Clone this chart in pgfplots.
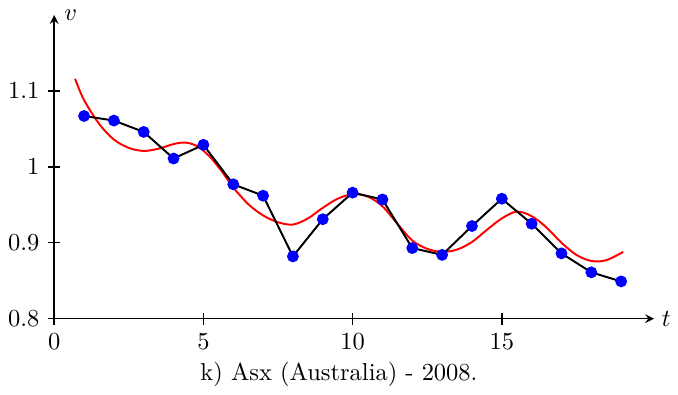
\documentclass[border=0pt]{standalone}
\usepackage{pgfplots}
\pgfplotsset{compat=1.18}
\begin{document}
\begin{tikzpicture}
\begin{axis}[
  scale only axis,
  width=245pt, height=124pt,
  axis x line=bottom, axis y line=left,
  axis line style={line width=0.6pt,-stealth},
  xmin=0, xmax=20.1, ymin=0.8, ymax=1.2,
  xtick={0,5,10,15}, ytick={0.8,0.9,1,1.1},
  tick align=center,
  major tick length=5pt,
  tick style={line width=0.6pt, black},
  xlabel={$t$}, ylabel={$v$},
  xlabel style={at={(axis description cs:1,0)}, anchor=west, inner sep=3pt},
  ylabel style={at={(axis description cs:0,1)}, anchor=west, rotate=-90, inner sep=4pt},
  clip=false,
]
\addplot[red, line width=0.8pt, smooth, tension=0.55] coordinates {
(0.70,1.116) (1.00,1.088) (1.50,1.057) (2.00,1.036) (2.50,1.025) (3.00,1.021)
(3.50,1.024) (4.00,1.030) (4.40,1.032) (4.80,1.027) (5.20,1.014) (5.60,0.995)
(6.00,0.973) (6.50,0.951) (7.00,0.936) (7.50,0.927) (8.00,0.924) (8.50,0.932)
(9.00,0.946) (9.50,0.958) (10.00,0.964) (10.50,0.961) (11.00,0.948) (11.50,0.925)
(12.00,0.903) (12.50,0.892) (13.00,0.888) (13.50,0.891) (14.00,0.901) (14.50,0.917)
(15.00,0.932) (15.50,0.941) (16.00,0.935) (16.50,0.920) (17.00,0.900) (17.50,0.884)
(18.00,0.876) (18.50,0.877) (19.07,0.888)
};
\addplot[black, line width=0.8pt, mark=*, mark size=2pt,
  mark options={fill=blue, draw=blue}] coordinates {
(1,1.067) (2,1.061) (3,1.046) (4,1.011) (5,1.029) (6,0.977) (7,0.962)
(8,0.882) (9,0.931) (10,0.966) (11,0.957) (12,0.893) (13,0.884) (14,0.922)
(15,0.958) (16,0.925) (17,0.886) (18,0.861) (19,0.849)
};
\end{axis}
\node[below=0pt, yshift=1.5pt] at (current axis.outer south) {k) Asx (Australia) - 2008.};
\end{tikzpicture}
\end{document}
